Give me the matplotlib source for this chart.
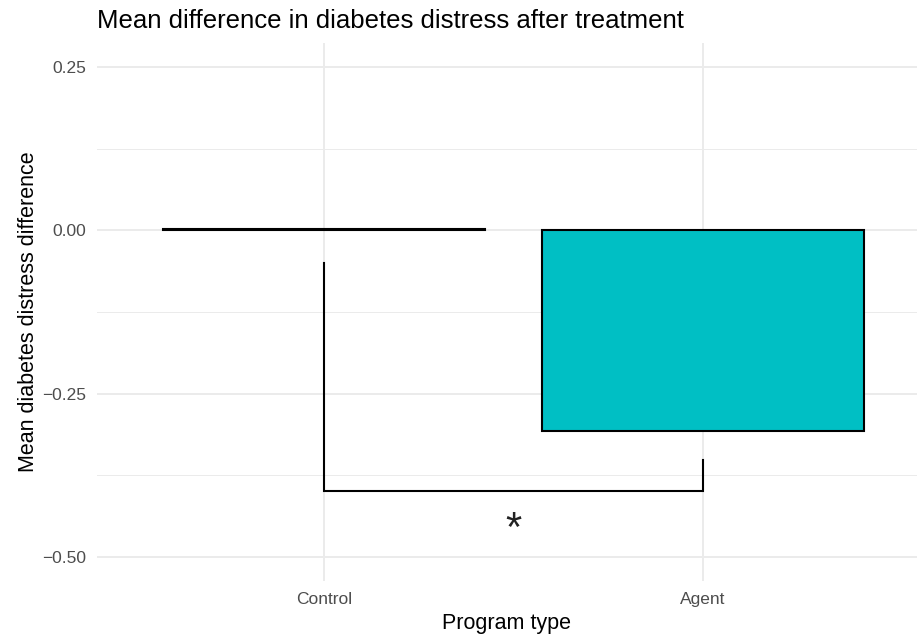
import matplotlib.pyplot as plt

plt.rcParams['font.family'] = ['Liberation Sans', 'DejaVu Sans']

# data
programs = ['Control', 'Agent']
mean_diff = [0.002, -0.307]
bar_colors = ['#F8766D', '#00BFC4']

# significance bracket
bracket_left_top = -0.05
bracket_right_top = -0.352
bracket_bottom = -0.40
star_y = -0.459
star_label = '*'

yticks = [0.25, 0.0, -0.25, -0.50]
ytick_labels = ['0.25', '0.00', '\u22120.25', '\u22120.50']
yminor = [0.125, -0.125, -0.375]

fig = plt.figure(figsize=(9.17, 6.35), dpi=100)
ax = fig.add_axes([97 / 917, 1 - 581 / 635, 820 / 917, 538 / 635])

xpos = [1, 2]
ax.bar(xpos, mean_diff, width=0.85, color=bar_colors, edgecolor='black',
       linewidth=1.5, zorder=3)

# bracket
ax.plot([1, 1, 2, 2], [bracket_left_top, bracket_bottom, bracket_bottom, bracket_right_top],
        color='black', linewidth=1.5, zorder=4, solid_joinstyle='miter')
ax.text(1.5, star_y, star_label, ha='center', va='center', fontsize=30,
        color='#222222', zorder=4)

ax.set_xlim(0.4, 2.565)
ax.set_ylim(-0.5375, 0.2875)
ax.set_xticks(xpos)
ax.set_xticklabels(programs)
ax.set_yticks(yticks)
ax.set_yticklabels(ytick_labels)
ax.set_yticks(yminor, minor=True)

ax.grid(True, which='major', color='#EBEBEB', linewidth=1.4, zorder=0)
ax.grid(True, which='minor', axis='y', color='#EBEBEB', linewidth=0.7, zorder=0)
ax.set_axisbelow(True)
for s in ax.spines.values():
    s.set_visible(False)
ax.tick_params(which='both', length=0, labelsize=12.5, labelcolor='#4D4D4D', pad=8)

ax.set_xlabel('Program type', fontsize=15.5, labelpad=4)
ax.set_ylabel('Mean diabetes distress difference', fontsize=15.5, labelpad=2)
fig.text(97 / 917, 1 - 21 / 635, 'Mean difference in diabetes distress after treatment',
         fontsize=18.5, ha='left', va='center')

fig.savefig('out.png', dpi=100)
